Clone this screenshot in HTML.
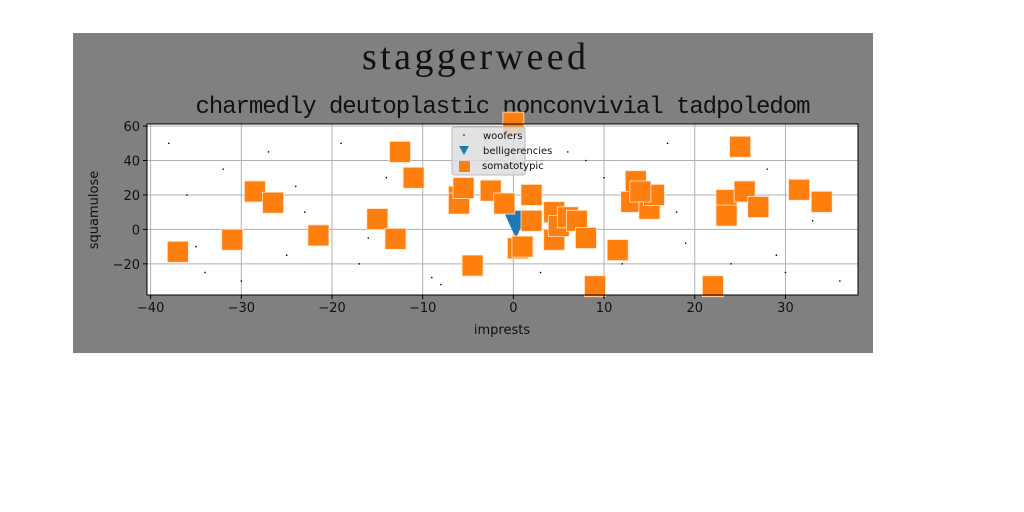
<!DOCTYPE html>
<html><head><meta charset="utf-8"><style>
html,body{margin:0;padding:0;background:#fff;width:1024px;height:512px;overflow:hidden}
svg{display:block}
</style></head><body>
<svg id="chart" width="1024" height="512" xmlns="http://www.w3.org/2000/svg">
<rect x="73" y="33" width="800" height="320" fill="#808080"/>
<text x="474" y="69" text-anchor="middle" font-family="Liberation Serif, serif" font-size="38" textLength="224" fill="#111">staggerweed</text>
<text x="503" y="113" text-anchor="middle" font-family="Liberation Mono, DejaVu Sans Mono, monospace" font-size="24" textLength="615" fill="#111">charmedly deutoplastic nonconvivial tadpoledom</text>
<rect x="147" y="124" width="711" height="171" fill="#fff"/>
<g id="grid"></g>
<g id="woof"></g>
<g id="tri"></g>
<g id="sq"></g>
<rect x="147" y="124" width="711" height="171" fill="none" stroke="#000" stroke-width="1"/>
<g id="ticks"></g>
<text x="502" y="334" text-anchor="middle" font-family="DejaVu Sans, sans-serif" font-size="13" fill="#111">imprests</text>
<text transform="translate(98,210) rotate(-90)" text-anchor="middle" font-family="DejaVu Sans, sans-serif" font-size="13" fill="#111">squamulose</text>
<g>
<rect x="452" y="127" width="73" height="48" rx="2" fill="#ddd" fill-opacity="0.85" stroke="#bbb"/>
<circle cx="464" cy="135" r="0.8" fill="#000"/>
<text x="483" y="139" font-family="DejaVu Sans, sans-serif" font-size="10" fill="#111">woofers</text>
<path d="M459,146 L469,146 L464,155 Z" fill="#1f77b4"/>
<text x="483" y="154" font-family="DejaVu Sans, sans-serif" font-size="10" fill="#111">belligerencies</text>
<rect x="459" y="161" width="11" height="11" fill="#ff7f0e"/>
<text x="482" y="169" font-family="DejaVu Sans, sans-serif" font-size="10" fill="#111">somatotypic</text>
</g>
</svg>
<script>
const xTicks=[-40,-30,-20,-10,0,10,20,30];
const yTicks=[-20,0,20,40,60];
const somX=[-37,-31,-28.5,-26.5,-21.5,-15,-13,-12.5,-11,-6,-6,-5.5,-4.5,-2.5,-1,0,0.5,1,2,2,4.5,4.5,5,6,7,8,9,11.5,13.5,13,15,15.5,14,22,23.5,23.5,25,25.5,27,31.5,34];
const somY=[-13,-6,22,15.5,-3.5,6,-5.5,45,30,19,15,24,-21,22.5,15,62,-11,-10,20,5,10,-6,2,7,5,-5,-33,-12,28,16,12,20,22,-33,17,8,48,22,13,23,16];
const belX=[0,0.3];
const belY=[5,2];
const woofX=[-38,-36,-34,-32,-30,-27,-25,-23,-19,-17,-14,-9,-7,-3,3,6,10,12,17,19,24,28,30,33,36,-35,-24,-16,-8,8,18,29];
const woofY=[50,20,-25,35,-30,45,-15,10,50,-20,30,-28,10,40,-25,45,30,-20,50,-8,-20,35,-25,5,-30,-10,25,-5,-32,40,10,-15];
const ns="http://www.w3.org/2000/svg";
const L=147,R=858,T=124,B=295,x0=-40.4,x1=38.0,y0=-38.1,y1=61.2;
function sx(v){return L+(v-x0)/(x1-x0)*(R-L);}
function sy(v){return B-(v-y0)/(y1-y0)*(B-T);}
function mk(tag,attrs,parent){const e=document.createElementNS(ns,tag);for(const k in attrs)e.setAttribute(k,attrs[k]);document.getElementById(parent).appendChild(e);return e;}
xTicks.forEach(t=>{const x=sx(t);
const g=mk('line',{x1:x,x2:x,y1:T,y2:B,stroke:'#b0b0b0','stroke-width':1},'grid');


mk('line',{x1:x,x2:x,y1:B,y2:B+4,stroke:'#000'},'ticks');
const tx=mk('text',{x:x,y:B+17,'text-anchor':'middle','font-family':'DejaVu Sans, sans-serif','font-size':13,fill:'#111'},'ticks');
tx.textContent=t===0?'0':String(t).replace('-','\u2212');

});
yTicks.forEach(t=>{const y=sy(t);
const g=mk('line',{x1:L,x2:R,y1:y,y2:y,stroke:'#b0b0b0','stroke-width':1},'grid');


mk('line',{x1:L-4,x2:L,y1:y,y2:y,stroke:'#000'},'ticks');
const tx=mk('text',{x:L-7,y:y+5,'text-anchor':'end','font-family':'DejaVu Sans, sans-serif','font-size':13,fill:'#111'},'ticks');
tx.textContent=t===0?'0':String(t).replace('-','\u2212');

});
woofX.forEach((v,i)=>{const c=mk('circle',{cx:sx(v),cy:sy(woofY[i]),r:0.8,fill:'#000'},'woof');

});
belX.forEach((v,i)=>{const x=sx(v),y=sy(belY[i]);
const p=mk('path',{d:`M${x-10},${y-10} L${x+10},${y-10} L${x},${y+12} Z`,fill:'#1f77b4'},'tri');

});
somX.forEach((v,i)=>{const x=sx(v),y=sy(somY[i]);
const r=mk('rect',{x:x-10.5,y:y-10.5,width:21,height:21,fill:'#ff7f0e',stroke:'#ffe6d0','stroke-width':0.8},'sq');

});
</script>
</body></html>
